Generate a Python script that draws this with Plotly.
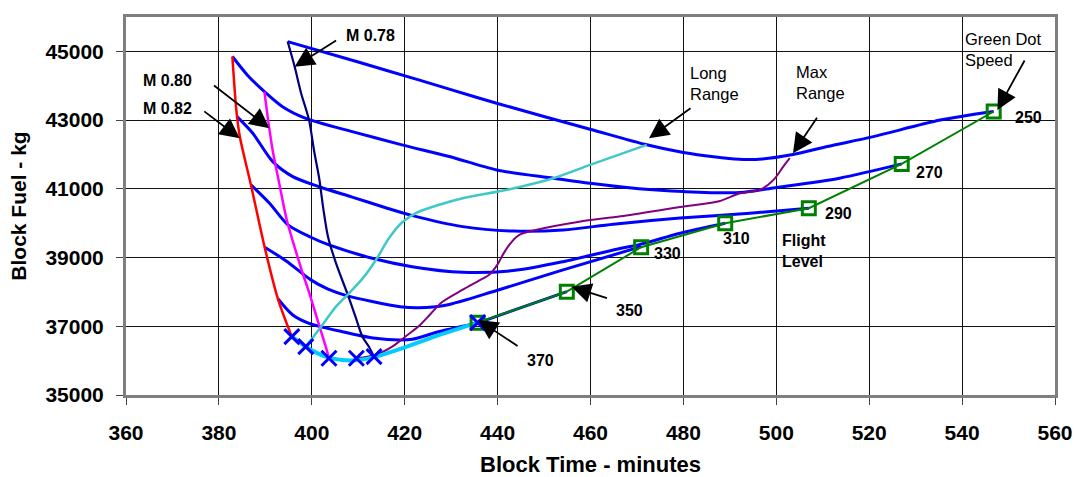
import plotly.graph_objects as go

# ---------------- data (block time in minutes, block fuel in kg) ----------------
fl250_time = [394.8, 410.0, 423.0, 429.6, 439.8, 459.9, 472.1, 480.0, 486.5, 492.0, 497.0, 503.6, 511.0, 520.9, 535.3, 546.8]
fl250_fuel = [45285, 44690, 44170, 43900, 43490, 42735, 42280, 42055, 41930, 41860, 41870, 42000, 42230, 42520, 43000, 43250]

fl270_time = [382.9, 386.2, 389.8, 393.7, 398.7, 408.7, 419.4, 429.6, 439.8, 452.0, 459.9, 470.4, 480.0, 492.2, 499.3, 513.6, 527.0]
fl270_fuel = [44850, 44300, 43830, 43390, 43050, 42665, 42280, 41940, 41550, 41310, 41160, 41000, 40920, 40890, 41025, 41310, 41725]

fl290_time = [383.9, 387.3, 391.6, 395.9, 401.6, 408.7, 415.9, 421.7, 432.5, 443.4, 454.1, 464.9, 479.3, 494.3, 507.0]
fl290_fuel = [43100, 42615, 41790, 41355, 41060, 40760, 40450, 40220, 39900, 39770, 39800, 39970, 40150, 40290, 40435]

fl310_time = [386.9, 390.9, 394.8, 399.8, 403.7, 413.0, 421.6, 432.5, 443.4, 454.1, 464.9, 470.9, 479.3, 489.0]
fl310_fuel = [41113, 40580, 39960, 39590, 39367, 38980, 38735, 38570, 38620, 38880, 39220, 39390, 39707, 39998]

fl330_time = [389.85, 394.5, 399.8, 403.5, 407.3, 413.0, 419.0, 423.0, 428.8, 439.8, 454.1, 470.9]
fl330_fuel = [39300, 38900, 38350, 38080, 37900, 37720, 37570, 37540, 37610, 38040, 38640, 39317]

fl350_time = [392.7, 395.9, 399.4, 406.6, 413.7, 419.0, 421.6, 427.5, 435.7, 445.2, 454.9]
fl350_fuel = [37800, 37329, 37087, 36843, 36650, 36600, 36620, 36850, 37105, 37550, 38007]

fl370_time = [395.7, 398.7, 403.0, 406.6, 410.2, 413.7, 419.4, 427.5, 435.7]
fl370_fuel = [36697, 36406, 36115, 36019, 36019, 36115, 36359, 36747, 37105]

m082_time = [382.9, 383.75, 384.5, 386.9, 389.85, 392.7, 395.7]
m082_fuel = [44850, 43300, 42520, 41113, 39300, 37800, 36697]

m080_time = [389.8, 390.6, 391.6, 393.0, 394.6, 396.3, 397.9, 399.5, 401.3, 403.0, 403.7]
m080_fuel = [43830, 43000, 42100, 41150, 40100, 39300, 38600, 37950, 37150, 36406, 36068]

m078_time = [394.8, 396.3, 397.7, 399.4, 400.5, 401.6, 402.5, 403.5, 405.3, 407.8, 409.4, 410.9, 412.3, 413.4]
m078_fuel = [45285, 44557, 43783, 43006, 42100, 41300, 40400, 39600, 38800, 37900, 37280, 36697, 36406, 36115]

lrc_time = [398.7, 402.0, 405.2, 408.0, 411.0, 413.8, 416.6, 419.4, 422.5, 428.0, 432.5, 442.6, 452.0, 459.9, 472.1]
lrc_fuel = [36406, 36989, 37571, 37960, 38400, 38930, 39560, 40020, 40300, 40560, 40725, 40990, 41309, 41696, 42278]

mrc_time = [409.6, 413.7, 417.3, 420.1, 423.0, 425.5, 428.0, 432.4, 436.0, 438.2, 440.0, 441.2, 443.0, 444.7, 448.2,
            457.6, 466.5, 479.3, 487.7, 492.2, 496.5, 499.4, 501.5, 502.9]
mrc_fuel = [36068, 36165, 36406, 36697, 37000, 37350, 37700, 38057, 38330, 38500, 38800, 39100, 39450, 39658, 39803,
            40045, 40200, 40470, 40640, 40870, 40968, 41259, 41647, 41890]

green_dot_time = [435.7, 454.9, 470.9, 489.0, 507.0, 527.0, 546.8]
green_dot_fuel = [37105, 38007, 39300, 39998, 40435, 41725, 43250]
green_dot_labels = ["370", "350", "330", "310", "290", "270", "250"]

cross_time = [395.7, 398.7, 403.7, 409.6, 413.4, 435.7]
cross_fuel = [36697, 36406, 36068, 36068, 36115, 37105]

x_ticks = [360, 380, 400, 420, 440, 460, 480, 500, 520, 540, 560]
y_ticks = [35000, 37000, 39000, 41000, 43000, 45000]

# ---------------- figure ----------------
FONT = "Liberation Sans, Arial, sans-serif"
fig = go.Figure()


def add_line(t, f, color, width):
    fig.add_trace(go.Scatter(
        x=t, y=f, mode="lines",
        line=dict(color=color, width=width, shape="spline", smoothing=0.8),
        hoverinfo="skip", showlegend=False))


BLUE = "#0000FF"
for t, f in [(fl250_time, fl250_fuel), (fl270_time, fl270_fuel), (fl290_time, fl290_fuel),
             (fl310_time, fl310_fuel), (fl330_time, fl330_fuel), (fl350_time, fl350_fuel)]:
    add_line(t, f, BLUE, 3)

add_line(m082_time, m082_fuel, "#FF0000", 2.5)
add_line(m080_time, m080_fuel, "#FF00FF", 2.5)
add_line(m078_time, m078_fuel, "#000080", 2.2)
add_line(lrc_time, lrc_fuel, "#40C8C8", 2.5)
add_line(mrc_time, mrc_fuel, "#800080", 2)
add_line(fl370_time, fl370_fuel, "#00CCFF", 4)

fig.add_trace(go.Scatter(
    x=green_dot_time, y=green_dot_fuel, mode="lines+markers",
    line=dict(color="#008000", width=2),
    marker=dict(symbol="square-open", size=13, color="#008000", line=dict(width=3, color="#008000")),
    hoverinfo="skip", showlegend=False))

fig.add_trace(go.Scatter(
    x=cross_time, y=cross_fuel, mode="markers",
    marker=dict(symbol="x-thin", size=15, line=dict(width=3, color=BLUE)),
    hoverinfo="skip", showlegend=False))

annotations = []


def arrow(x, y, ax, ay):
    annotations.append(dict(
        x=x, y=y, xref="x", yref="y", ax=ax, ay=ay, axref="pixel", ayref="pixel",
        text="", showarrow=True, arrowhead=2, arrowsize=2.2, arrowwidth=1.8,
        arrowcolor="#000000", standoff=0, startstandoff=0))


def label(x, y, text, bold=True, size=16, xshift=0, yshift=0):
    annotations.append(dict(
        x=x, y=y, xref="x", yref="y", text=text, showarrow=False,
        xanchor="left", yanchor="middle", align="left", borderpad=0,
        xshift=xshift, yshift=yshift,
        font=dict(family=FONT, size=size, color="#000000", weight="bold" if bold else "normal")))


# iso-Mach labels
label(407.1, 45448, "M 0.78")
arrow(396.3, 44555, 43, -27)
label(363.5, 44147, "M 0.80")
arrow(390.9, 42762, -57, -44)
label(363.5, 43324, "M 0.82")
arrow(384.5, 42471, -37, -28)

# long / max range, green dot
label(481.1, 44075, "Long<br>Range", bold=False, size=16.5)
arrow(472.6, 42471, 43, -31)
label(504.1, 44083, "Max<br>Range", bold=False, size=16.5)
arrow(503.6, 42035, 25, -37)
label(540.4, 45044, "Green Dot<br>Speed", bold=False, size=16.5)
arrow(547.6, 43295, 28, -51)
label(501.0, 39205, "Flight<br>Level")

# flight level labels next to green dot squares (pixel shifts)
label_shifts = {"370": (48, -38), "350": (48, -19), "330": (12, -6), "310": (-3, -15),
                "290": (15, -5), "270": (13, -9), "250": (20, -6)}
for t, f, txt in zip(green_dot_time, green_dot_fuel, green_dot_labels):
    dx, dy = label_shifts[txt]
    label(t, f, txt, xshift=dx, yshift=dy)

arrow(455.9, 38152, 37, 12)
arrow(435.8, 37183, 41, 27)

fig.update_layout(
    width=1075, height=477,
    margin=dict(l=126, r=20, t=17, b=82),
    paper_bgcolor="white", plot_bgcolor="white",
    font=dict(family=FONT, color="#000000"),
    showlegend=False,
    annotations=annotations,
)

fig.update_xaxes(
    range=[360, 560], tickvals=x_ticks, ticktext=[str(v) for v in x_ticks],
    showgrid=True, gridcolor="#111111", gridwidth=1,
    ticks="outside", ticklen=7, tickcolor="#444444", tickwidth=1,
    showline=True, mirror=True, linecolor="#7f7f7f", linewidth=3,
    zeroline=False, ticklabelstandoff=10, automargin=False,
    tickfont=dict(family=FONT, size=21, weight="bold"),
    title=dict(text="Block Time - minutes", standoff=16,
               font=dict(family=FONT, size=22, weight="bold")),
)
fig.update_yaxes(
    range=[35000, 46000], tickvals=y_ticks, ticktext=[str(v) for v in y_ticks],
    showgrid=True, gridcolor="#111111", gridwidth=1,
    ticks="outside", ticklen=7, tickcolor="#444444", tickwidth=1,
    showline=True, mirror=True, linecolor="#7f7f7f", linewidth=3,
    zeroline=False, ticklabelstandoff=8, automargin=False,
    tickfont=dict(family=FONT, size=21, weight="bold"),
    title=dict(text="Block Fuel - kg", standoff=14,
               font=dict(family=FONT, size=21, weight="bold")),
)

fig.write_html(
    "out.html",
    config={"displayModeBar": False, "staticPlot": True},
    post_script="document.body.style.margin='0';document.body.style.overflow='hidden';",
)
